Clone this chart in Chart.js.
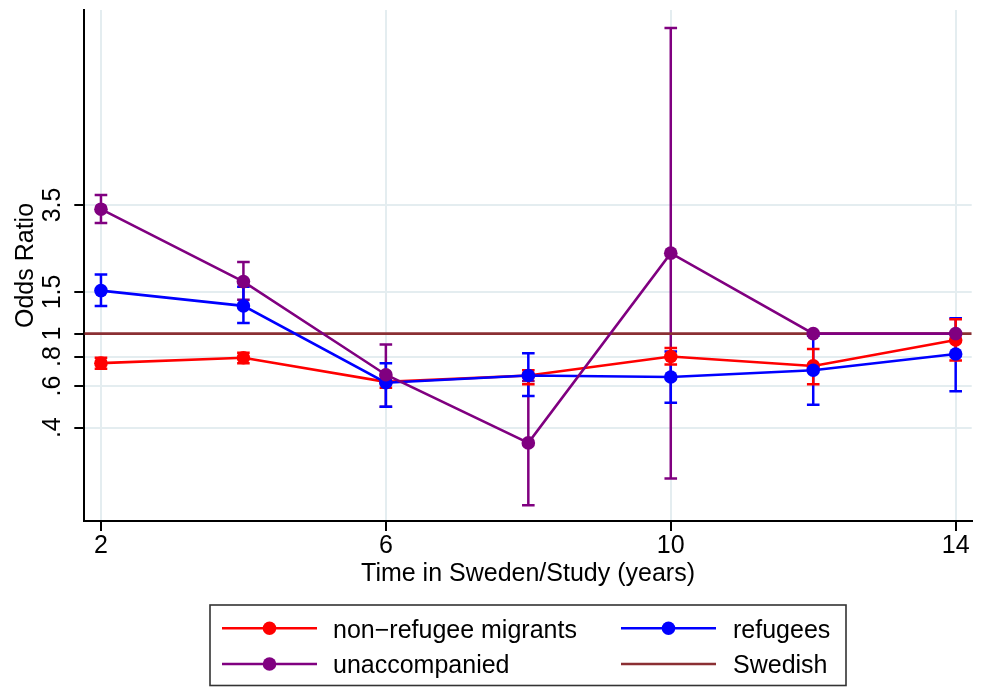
<!DOCTYPE html>
<html>
<head>
<meta charset="utf-8">
<title>Odds ratio by time in Sweden</title>
<script src="https://cdn.jsdelivr.net/npm/chart.js@4/dist/chart.umd.min.js"></script>
<style>
  html, body { margin: 0; padding: 0; background: #ffffff; }
  #wrap { width: 983px; height: 687px; position: relative; }
</style>
</head>
<body>
<div id="wrap"><canvas id="chart" width="983" height="687"></canvas></div>
<script>
// Follow-up time points (years in Sweden / in study)
const years = [2, 4, 6, 8, 10, 12, 14];

// Non-refugee migrants: odds ratio with 95% CI
const nonRefOR = [0.75, 0.79, 0.625, 0.665, 0.80, 0.73, 0.94];
const nonRefLo = [0.71, 0.75, 0.59, 0.61, 0.74, 0.61, 0.77];
const nonRefHi = [0.79, 0.83, 0.66, 0.70, 0.87, 0.86, 1.15];

// Refugees
const refOR = [1.52, 1.31, 0.62, 0.665, 0.655, 0.70, 0.82];
const refLo = [1.31, 1.11, 0.49, 0.545, 0.51, 0.50, 0.57];
const refHi = [1.78, 1.58, 0.75, 0.825, 0.84, 0.98, 1.16];

// Unaccompanied minors (no interval at 12 and 14)
const unaccOR = [3.36, 1.66, 0.67, 0.345, 2.19, 1.0, 1.0];
const unaccLo = [2.94, 1.39, 0.49, 0.188, 0.244, null, null];
const unaccHi = [3.86, 2.01, 0.90, 0.63, 19.6, null, null];

// Swedish-born reference group
const swedishOR = 1;

// Axis ranges and ticks
const xRange = [1.766, 14.225];
const xTicks = [2, 6, 10, 14];
const yRange = [0.1612, 23.38];
const yTickValues = [0.4, 0.6, 0.8, 1, 1.5, 3.5];
const yTickLabels = ['.4', '.6', '.8', '1', '1.5', '3.5'];

const FONT = '"Liberation Sans", Arial, Helvetica, sans-serif';
Chart.defaults.font.family = FONT;
Chart.defaults.font.size = 25;
Chart.defaults.color = '#000000';

const MARKER_R = 6.8;

const pts = (vals) => years.map((yr, i) => ({ x: yr, y: vals[i] }));

function series(label, color, vals, lo, hi, order) {
  return {
    label,
    data: pts(vals),
    lo, hi,
    order,
    borderColor: color,
    backgroundColor: color,
    borderWidth: 2.6,
    pointRadius: MARKER_R,
    pointHoverRadius: MARKER_R,
    pointBorderWidth: 0,
    pointBackgroundColor: color,
    tension: 0,
    showMarker: true
  };
}

const datasets = [
  series('non\u2212refugee migrants', '#ff0000', nonRefOR, nonRefLo, nonRefHi, 2),
  series('refugees', '#0000ff', refOR, refLo, refHi, 1),
  series('unaccompanied', '#800080', unaccOR, unaccLo, unaccHi, 0),
  {
    label: 'Swedish',
    data: [{ x: xRange[0], y: swedishOR }, { x: xRange[1], y: swedishOR }],
    order: 3,
    borderColor: '#8b2f33',
    backgroundColor: '#8b2f33',
    borderWidth: 2.6,
    pointRadius: 0,
    pointHoverRadius: 0,
    showMarker: false
  }
];

// Confidence-interval caps, drawn under the markers
const errorBars = {
  id: 'errorBars',
  beforeDatasetsDraw(chart) {
    const { ctx, scales: { x, y } } = chart;
    ctx.save();
    ctx.lineWidth = 2.5;
    ctx.lineCap = 'butt';
    const cap = 6.3;
    [2, 1, 0].forEach(di => {
      const ds = chart.data.datasets[di];
      if (!ds.lo) return;
      ctx.strokeStyle = ds.borderColor;
      ds.data.forEach((p, i) => {
        const lo = ds.lo[i], hi = ds.hi[i];
        if (lo == null || hi == null) return;
        const px = x.getPixelForValue(p.x);
        const yl = y.getPixelForValue(lo);
        const yh = y.getPixelForValue(hi);
        ctx.beginPath();
        ctx.moveTo(px, yl); ctx.lineTo(px, yh);
        ctx.moveTo(px - cap, yl); ctx.lineTo(px + cap, yl);
        ctx.moveTo(px - cap, yh); ctx.lineTo(px + cap, yh);
        ctx.stroke();
      });
    });
    ctx.restore();
  }
};

// Boxed two-column legend under the plot
const boxLegend = {
  id: 'boxLegend',
  afterDraw(chart) {
    const { ctx } = chart;
    const box = { x: 210, y: 605, w: 636, h: 80.5 };
    const cols = [{ lx0: 222, lx1: 317, text: 333 }, { lx0: 621, lx1: 716, text: 733 }];
    const rows = [628.3, 664];
    ctx.save();
    ctx.strokeStyle = '#333333';
    ctx.lineWidth = 1.6;
    ctx.strokeRect(box.x, box.y, box.w, box.h);
    ctx.font = '25px ' + FONT;
    ctx.textBaseline = 'alphabetic';
    ctx.textAlign = 'left';
    chart.data.datasets.forEach((ds, i) => {
      const c = cols[i % 2];
      const ry = rows[Math.floor(i / 2)];
      ctx.strokeStyle = ds.borderColor;
      ctx.lineWidth = 2.5;
      ctx.beginPath();
      ctx.moveTo(c.lx0, ry); ctx.lineTo(c.lx1, ry);
      ctx.stroke();
      if (ds.showMarker) {
        ctx.fillStyle = ds.borderColor;
        ctx.beginPath();
        ctx.arc((c.lx0 + c.lx1) / 2, ry, MARKER_R, 0, Math.PI * 2);
        ctx.fill();
      }
      ctx.fillStyle = '#000000';
      ctx.fillText(ds.label, c.text, ry + 9.2);
    });
    ctx.restore();
  }
};

new Chart(document.getElementById('chart'), {
  type: 'line',
  data: { datasets },
  plugins: [errorBars, boxLegend],
  options: {
    responsive: false,
    animation: false,
    devicePixelRatio: 1,
    layout: { padding: { left: 0, top: 10, right: 11.3, bottom: 97.7 } },
    plugins: {
      legend: { display: false },
      tooltip: { enabled: false }
    },
    scales: {
      x: {
        type: 'linear',
        min: xRange[0],
        max: xRange[1],
        afterBuildTicks: (axis) => { axis.ticks = xTicks.map(v => ({ value: v })); },
        afterFit: (axis) => { axis.height = 68.3; axis.paddingLeft = 0; axis.paddingRight = 0; },
        ticks: { padding: 0, maxRotation: 0, autoSkip: false, font: { size: 25 }, callback: (v) => String(v) },
        grid: { color: '#e4edf0', lineWidth: 2, tickColor: '#000000', tickWidth: 2, tickLength: 10 },
        border: { display: true, color: '#000000', width: 2 },
        title: { display: true, text: 'Time in Sweden/Study (years)', font: { size: 25 }, padding: { top: 0, bottom: 0 } }
      },
      y: {
        type: 'logarithmic',
        min: yRange[0],
        max: yRange[1],
        afterBuildTicks: (axis) => { axis.ticks = yTickValues.map(v => ({ value: v })); },
        afterFit: (axis) => { axis.width = 84.3; axis.paddingTop = 0; axis.paddingBottom = 0; },
        ticks: {
          minRotation: 90, maxRotation: 90, crossAlign: 'center', padding: 3.4, autoSkip: false,
          font: { size: 25 },
          callback: (v, i) => yTickLabels[i]
        },
        grid: { color: '#e4edf0', lineWidth: 2, tickColor: '#000000', tickWidth: 2, tickLength: 10 },
        border: { display: true, color: '#000000', width: 2 },
        title: { display: true, text: 'Odds Ratio', font: { size: 25 }, padding: { top: 10.7, bottom: 0 } }
      }
    }
  }
});
</script>
</body>
</html>
